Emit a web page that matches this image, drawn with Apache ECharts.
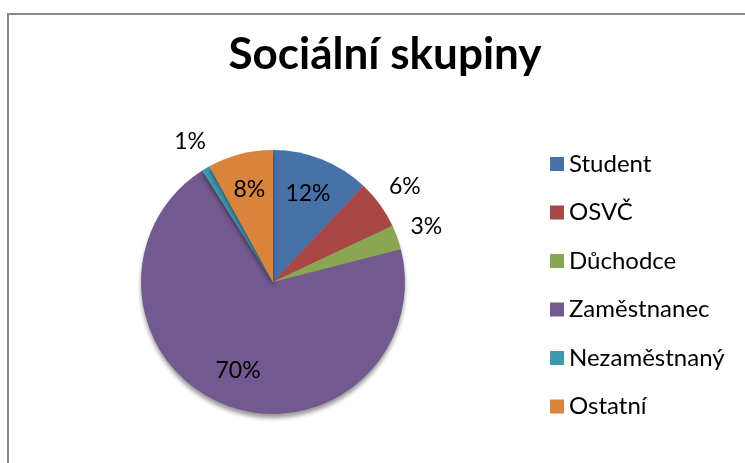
<!DOCTYPE html>
<html>
<head>
<meta charset="utf-8">
<script src="https://cdn.jsdelivr.net/npm/echarts@6/dist/echarts.min.js"></script>
<style>html,body{margin:0;padding:0;background:#fff;}#c{width:745px;height:463px;}</style>
</head>
<body>
<div id="c"></div>
<script>
var categories = ['Student', 'OSVČ', 'Důchodce', 'Zaměstnanec', 'Nezaměstnaný', 'Ostatní'];
var values = [12, 6, 3, 70, 1, 8];
var colors = ['#4672A8', '#A84745', '#8AA650', '#72598F', '#3F99AE', '#D9843D'];
var insideLabels = ['Student', 'Zaměstnanec', 'Ostatní'];
var titleText = 'Sociální skupiny';

var font = 'Lato, "Open Sans", sans-serif';
var center = [273, 282];
var R = 132;

function mkData(showFn) {
  return categories.map(function (c, i) {
    return { name: c, value: values[i], label: { show: showFn(c) } };
  });
}

var chart = echarts.init(document.getElementById('c'), null, { renderer: 'canvas' });
chart.setOption({
  animation: false,
  color: colors,
  title: {
    text: titleText, left: 385, top: 33, textAlign: 'center', padding: 0,
    textStyle: { fontFamily: font, fontSize: 44, fontWeight: 'bold', color: '#000' }
  },
  legend: {
    orient: 'vertical', left: 550, top: 150, padding: 0,
    itemWidth: 14, itemHeight: 14, itemGap: 20.5, icon: 'rect',
    data: categories,
    textStyle: { fontFamily: font, fontSize: 24, color: '#000', lineHeight: 28, padding: [0, 0, 0, 0] }
  },
  graphic: [{
    type: 'rect', shape: { x: 8, y: 14, width: 800, height: 500 },
    style: { fill: 'none', stroke: '#888888', lineWidth: 2 }, silent: true, z: 0
  }],
  series: [{
    type: 'pie', center: center, radius: R, startAngle: 90, clockwise: true,
    data: mkData(function () { return false; }),
    label: { show: false }, labelLine: { show: false },
    itemStyle: { borderWidth: 0, shadowColor: 'rgba(0,0,0,0.4)', shadowBlur: 4, shadowOffsetY: 4 },
    emphasis: { disabled: true }, silent: true
  }, {
    type: 'pie', center: center, radius: 184, startAngle: 90, clockwise: true,
    data: mkData(function (c) { return insideLabels.indexOf(c) >= 0; }),
    itemStyle: { color: 'rgba(0,0,0,0)' }, labelLine: { show: false },
    label: { position: 'inside', formatter: '{c}%', fontFamily: font, fontSize: 23, color: '#000' },
    emphasis: { disabled: true }, silent: true, z: 3
  }, {
    type: 'pie', center: center, radius: 320, startAngle: 90, clockwise: true,
    data: mkData(function (c) { return insideLabels.indexOf(c) < 0; }),
    itemStyle: { color: 'rgba(0,0,0,0)' }, labelLine: { show: false },
    label: { position: 'inside', formatter: '{c}%', fontFamily: font, fontSize: 23, color: '#000' },
    emphasis: { disabled: true }, silent: true, z: 3
  }]
});
</script>
</body>
</html>
